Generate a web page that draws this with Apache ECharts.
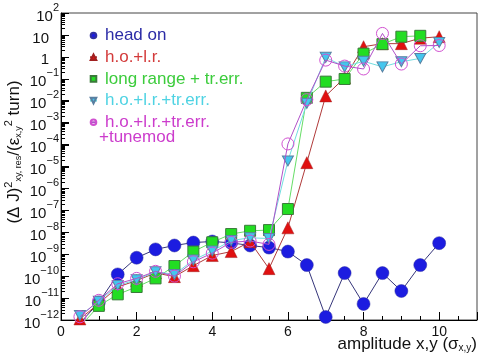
<!DOCTYPE html>
<html>
<head>
<meta charset="utf-8">
<script src="https://cdn.jsdelivr.net/npm/echarts@6/dist/echarts.min.js"></script>
<style>
  html, body { margin: 0; padding: 0; background: #fff; }
  #chart { width: 480px; height: 358px; }
</style>
</head>
<body>
<div id="chart"></div>
<script>
// Amplitude grid, in units of sigma_x,y
const amplitude = [0.5, 1, 1.5, 2, 2.5, 3, 3.5, 4, 4.5, 5, 5.5, 6, 6.5, 7, 7.5, 8, 8.5, 9, 9.5, 10];

// Diffusion rate (ΔJ)²/(ε² turn) for each configuration
const headOn = [7.1e-13, 6.3e-12, 1.2e-10, 6.9e-10, 1.66e-9, 2.5e-9, 3.4e-9, 3.8e-9, 3.3e-9, 2.5e-9,
  2.0e-9, 1.32e-9, 3.2e-10, 1.38e-12, 1.38e-10, 5.4e-12, 1.38e-10, 2.1e-11, 3.2e-10, 3.2e-9];
const hoLr = [1.12e-12, 5.6e-12, 3.2e-11, 6.3e-11, 1.4e-10, 9.5e-11, 3.0e-10, 8.7e-10, 1.32e-9, 3.7e-9,
  2.2e-10, 1.6e-8, 1.5e-5, 1.66e-2, 0.112, 2.9, 4.0, 4.0, 7.1, 8.3];
const longRangeTrErr = [5e-13, 4.4e-12, 1.48e-11, 3.2e-11, 7.9e-11, 2.9e-10, 1.32e-9, 3.5e-9, 8.3e-9, 1.17e-8,
  1.26e-8, 1.15e-7, 1.35e-2, 7.4e-2, 9.8e-2, 1.4, 3.8, 8.3, 9.1, null];
const hoLrTrErr = [1.6e-12, 7.1e-12, 3.8e-11, 6.8e-11, 1.6e-10, 1.2e-10, 5.4e-10, 1.4e-9, 4.2e-9, 5.6e-9,
  5.2e-9, 1.8e-5, 7.6e-3, 0.95, 0.35, 0.63, 0.35, 0.6, 0.85, 4.5];
const hoLrTrErrTune = [1.4e-12, 7.9e-12, 4.5e-11, 7.9e-11, 1.66e-10, 1.0e-10, 4.5e-10, 1.12e-9, 3.5e-9, 4.0e-9,
  2.8e-9, 1.07e-4, 1.12e-2, 0.71, 0.38, 0.28, 11.7, 0.47, 3.2, 3.3];

// Legend entries (the last one continues on a second text line)
const seriesNames = ['head on', 'h.o.+l.r.', 'long range + tr.err.', 'h.o.+l.r.+tr.err.', 'h.o.+l.r.+tr.err.\u200b'];
const tuneModLine = '+tunemod';

// Decade exponents shown on the y axis
const yExponents = [2, 1, 0, -1, -2, -3, -4, -5, -6, -7, -8, -9, -10, -11, -12];
// Mantissas of the minor ticks inside each decade
const minorMantissas = [2, 3, 4, 5, 6, 7, 8, 9];
// X tick labels
const xTickLabels = [0, 2, 4, 6, 8, 10];

const FONT = 'Liberation Sans, Arial, sans-serif';
const downTri = 'path://M0,0 L10,0 L5,9 Z';
const MAJOR_TICK = 8, MINOR_TICK = 4;

// Tick marks of the log axis: [value, tick length]; decades long, 2..9 short
const yTickMarks = [];
yExponents.forEach(e => {
  yTickMarks.push([0, Number('1e' + e), MAJOR_TICK]);
  if (e < 2) minorMantissas.forEach(m => yTickMarks.push([0, Number(m + 'e' + e), MINOR_TICK]));
});

function pairs(ys) {
  return amplitude.map((x, i) => [x, ys[i]]);
}

function lineSeries(name, ys, opts) {
  return Object.assign({
    name: name,
    type: 'line',
    data: pairs(ys),
    clip: true,
    connectNulls: false,
    lineStyle: { width: 1 },
    emphasis: { disabled: true },
    animation: false
  }, opts);
}

const chart = echarts.init(document.getElementById('chart'), null, { renderer: 'canvas' });

chart.setOption({
  animation: false,
  grid: { left: 61, right: 1, top: 13, bottom: 38, show: true, borderColor: '#444', borderWidth: 1, backgroundColor: 'transparent' },
  legend: {
    orient: 'vertical',
    left: 84,
    top: 20,
    itemWidth: 7,
    itemHeight: 7,
    itemGap: 0.7,
    selectedMode: false,
    textStyle: { fontFamily: FONT, fontSize: 17, lineHeight: 21, padding: [0, 0, 0, 3] },
    data: [
      { name: seriesNames[0], textStyle: { color: '#2b2ba6' } },
      { name: seriesNames[1], textStyle: { color: '#d33a3a' } },
      { name: seriesNames[2], textStyle: { color: '#3ccc3c' } },
      { name: seriesNames[3], textStyle: { color: '#4fd3e3' } },
      { name: seriesNames[4], textStyle: { color: '#cc3ccc' } }
    ]
  },
  xAxis: {
    type: 'value',
    min: 0,
    max: 11,
    interval: 2,
    axisLine: { show: true, onZero: false, lineStyle: { color: '#000', width: 1 } },
    axisTick: { show: true, inside: true, length: 8, lineStyle: { color: '#000' } },
    minorTick: { show: true, splitNumber: 4, length: 4, lineStyle: { color: '#000' } },
    splitLine: { show: false },
    axisLabel: {
      margin: 5,
      fontFamily: FONT, fontSize: 14, color: '#111',
      formatter: v => (xTickLabels.indexOf(v) >= 0 ? String(v) : '')
    }
  },
  yAxis: {
    type: 'log',
    logBase: 10,
    min: 1e-12,
    max: 100,
    interval: 1,
    position: 'left',
    axisLine: { show: true, onZero: false, lineStyle: { color: '#000', width: 1 } },
    axisTick: { show: true, inside: true, length: MAJOR_TICK, lineStyle: { color: '#000' } },
    splitLine: { show: false },
    axisLabel: {
      margin: 2,
      formatter: function (v) {
        const e = Math.round(Math.log10(v));
        if (yExponents.indexOf(e) < 0) return '';
        if (e === 0) return '{b|1}{p|}';
        if (e === 1) return '{b|10}{p|}';
        return '{b|10}{s|' + (e < 0 ? '\u2212' + (-e) : e) + '}';
      },
      rich: {
        b: { fontFamily: FONT, fontSize: 15, color: '#111', lineHeight: 22, verticalAlign: 'bottom' },
        s: { fontFamily: FONT, fontSize: 11, color: '#111', lineHeight: 12, verticalAlign: 'top' },
        p: { width: 10 }
      }
    }
  },
  graphic: [
    {
      type: 'text',
      left: 99,
      top: 129,
      style: { text: tuneModLine, font: '17px ' + FONT, fill: '#cc3ccc' },
      silent: true
    },
    {
      type: 'text',
      right: 3,
      top: 336,
      style: {
        text: 'amplitude x,y (\u03c3{sub|x,y})',
        font: '17px ' + FONT,
        fill: '#111',
        rich: { sub: { fontFamily: FONT, fontSize: 10, fill: '#111', padding: [8, 0, 0, 0] } }
      },
      silent: true
    },
    {
      type: 'text',
      x: 14,
      y: 152,
      rotation: Math.PI / 2,
      style: {
        text: '(\u0394 J){sup|2}{sub|xy, res}/(\u03b5{sub|x,y}{sup|2} turn)',
        font: '17px ' + FONT,
        fill: '#111',
        align: 'center',
        verticalAlign: 'middle',
        rich: {
          sup: { fontFamily: FONT, fontSize: 11, fill: '#111', padding: [0, 0, 10, 0] },
          sub: { fontFamily: FONT, fontSize: 9, fill: '#111', padding: [10, 0, 0, 0] }
        }
      },
      silent: true
    }
  ],
  series: [
    {
      // Decade and sub-decade tick marks along the log axis
      type: 'custom',
      name: 'yTicks',
      silent: true,
      clip: false,
      z: 1,
      data: yTickMarks,
      encode: { x: 0, y: 1 },
      renderItem: function (params, api) {
        const p = api.coord([api.value(0), api.value(1)]);
        const y = Math.round(p[1]) + 0.5;
        return {
          type: 'line',
          shape: { x1: p[0], y1: y, x2: p[0] + api.value(2), y2: y },
          style: { stroke: '#000', lineWidth: 1 }
        };
      }
    },
    lineSeries(seriesNames[0], headOn, {
      symbol: 'circle', symbolSize: 13,
      itemStyle: { color: '#1c1ce0', borderColor: '#3030a0', borderWidth: 0.5 },
      lineStyle: { width: 1, color: '#35357a' },
      z: 2
    }),
    lineSeries(seriesNames[1], hoLr, {
      symbol: 'triangle', symbolSize: 12,
      itemStyle: { color: '#e01010', borderColor: '#a02020', borderWidth: 0.5 },
      lineStyle: { width: 1, color: '#b03a3a' },
      z: 3
    }),
    lineSeries(seriesNames[2], longRangeTrErr, {
      symbol: 'rect', symbolSize: 11,
      itemStyle: { color: '#22dd22', borderColor: '#3a7a3a', borderWidth: 1 },
      lineStyle: { width: 1, color: '#66dd66' },
      z: 4
    }),
    lineSeries(seriesNames[3], hoLrTrErr, {
      symbol: downTri, symbolSize: [11, 10],
      itemStyle: { color: '#44c6ee', borderColor: '#5a7fa0', borderWidth: 1 },
      lineStyle: { width: 1, color: '#70dde0' },
      z: 5
    }),
    lineSeries(seriesNames[4], hoLrTrErrTune, {
      symbol: 'circle', symbolSize: 12,
      itemStyle: { color: 'rgba(255,255,255,0)', borderColor: '#d050d0', borderWidth: 1 },
      lineStyle: { width: 1, color: '#b050c8' },
      z: 6
    })
  ]
});
</script>
</body>
</html>
